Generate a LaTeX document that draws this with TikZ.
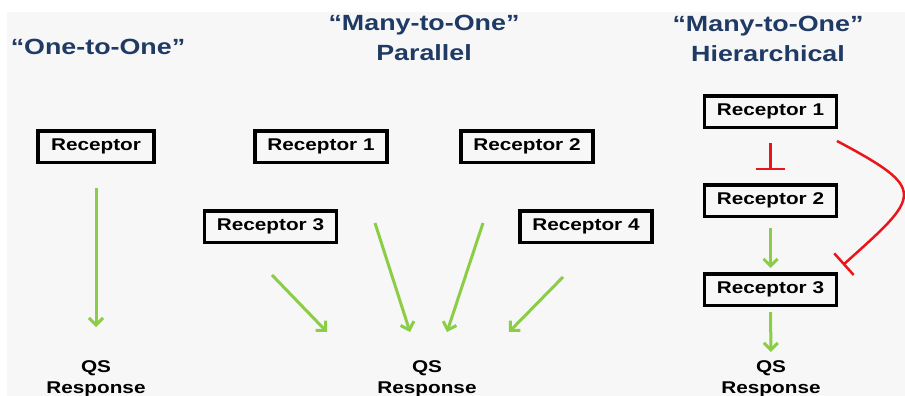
\documentclass[tikz,border=0pt]{standalone}
\usepackage{fontspec}
\setmainfont{Liberation Sans}[FakeStretch=1.22]
\usetikzlibrary{arrows.meta}
\definecolor{titleblue}{RGB}{31,58,100}
\definecolor{actgreen}{RGB}{140,205,70}
\definecolor{inhred}{RGB}{235,20,25}
\definecolor{slidegray}{RGB}{247,247,247}

\begin{document}
\begin{tikzpicture}[x=1pt,y=-1pt,
  title/.style={text=titleblue,font=\bfseries\fontsize{22}{30}\selectfont,align=center,inner sep=0},
  receptor/.style={draw,line width=3.5pt,minimum width=132pt,minimum height=31.5pt,inner sep=0,font=\bfseries\fontsize{17}{20}\selectfont},
  response/.style={anchor=north,align=center,inner sep=0,font=\bfseries\fontsize{17}{21}\selectfont},
  act/.style={draw=actgreen,line width=3pt,-{Straight Barb[length=7pt,width=14pt]}},
  inh/.style={draw=inhred,line width=2.5pt,-{Bar[width=29pt]}}]
    \useasboundingbox (0,0) rectangle (905,396);
    \fill[white] (0,0) rectangle (905,396);
    \fill[slidegray] (7,12) rectangle (905,396);
    % titles
    \node[title] (t1) at (98,47) {“One-to-One”};
    \node[title] (t2) at (424,38) {“Many-to-One”\\Parallel};
    \node[title] (t3) at (768,39) {“Many-to-One”\\Hierarchical};
    % one-to-one
    \node[receptor,minimum width=116pt] (r0) at (96,146.5) {Receptor};
    \node[response] (qs1) at (96,360) {QS\\Response};
    \draw[act,shorten <=24pt,shorten >=33pt] (r0) -- (qs1);
    % many-to-one, parallel
    \node[receptor] (p1) at (321,146.5) {Receptor 1};
    \node[receptor] (p2) at (527,146.5) {Receptor 2};
    \node[receptor] (p3) at (270.5,226.5) {Receptor 3};
    \node[receptor] (p4) at (586,226.5) {Receptor 4};
    \node[response] (qs2) at (427,360) {QS\\Response};
    \coordinate (a1) at (272,275); \coordinate (b1) at (327,332);
    \coordinate (a2) at (375,223); \coordinate (b2) at (410,332);
    \coordinate (a3) at (483,223); \coordinate (b3) at (447,332);
    \coordinate (a4) at (563,277); \coordinate (b4) at (509,332);
    \foreach \i in {1,...,4} \draw[act] (a\i) -- (b\i);
    % many-to-one, hierarchical
    \node[receptor] (h1) at (770.5,111.5) {Receptor 1};
    \node[receptor] (h2) at (770.5,200.5) {Receptor 2};
    \node[receptor] (h3) at (770.5,289.5) {Receptor 3};
    \node[response] (qs3) at (771,360) {QS\\Response};
    \draw[inh,shorten <=14pt,shorten >=13pt] (h1) -- (h2);
    \draw[act,shorten <=10pt,shorten >=4pt] (h2) -- (h3);
    \draw[act,shorten <=5pt,shorten >=8pt] (h3) -- (qs3);
    \coordinate (c1) at (837,141);
    \coordinate (c2) at (843,265);
    \draw[inh] (c1) .. controls (929,190) and (921,195) .. (c2);
\end{tikzpicture}
\end{document}
